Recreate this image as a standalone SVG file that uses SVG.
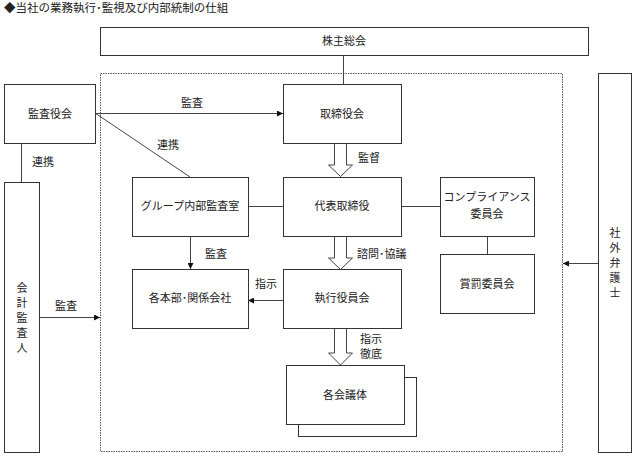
<svg xmlns="http://www.w3.org/2000/svg" width="640" height="463" viewBox="0 0 640 463">
<defs>
<style>
text{font-family:"Noto Sans CJK JP","Noto Sans CJK SC",sans-serif;font-size:11px;fill:#222}
.c{text-anchor:middle}
.v{writing-mode:vertical-rl;text-anchor:middle;letter-spacing:4px}
.box{fill:#fff;stroke:#333;stroke-width:1}
.ln{fill:none;stroke:#444;stroke-width:1}
.hol{fill:#fff;stroke:#444;stroke-width:1}
</style>
<marker id="ah" viewBox="0 0 6 6" refX="6" refY="3" markerWidth="6" markerHeight="6" orient="auto" markerUnits="userSpaceOnUse">
<path d="M0,0 L6,3 L0,6 z" fill="#111"/>
</marker>
</defs>
<rect width="640" height="463" fill="#fff"/>
<text x="4" y="12" style="font-size:11.5px">◆当社の業務執行･監視及び内部統制の仕組</text>

<rect x="100.5" y="73.5" width="462" height="378" fill="none" stroke="#555" stroke-dasharray="1.5,1"/>

<g id="connectors">
<line class="ln" x1="343.5" y1="55" x2="343.5" y2="84"/>
<line class="ln" x1="95" y1="113.5" x2="283" y2="113.5" marker-end="url(#ah)"/>
<text x="192" y="107" class="c">監査</text>
<line class="ln" x1="95" y1="113" x2="190" y2="177"/>
<text x="168" y="149" class="c">連携</text>
<line class="ln" x1="21.5" y1="143" x2="21.5" y2="182"/>
<text x="43" y="166" class="c">連携</text>
<line class="ln" x1="39" y1="317.5" x2="100" y2="317.5" marker-end="url(#ah)"/>
<text x="66" y="310" class="c">監査</text>
<line class="ln" x1="248" y1="206.5" x2="283" y2="206.5"/>
<line class="ln" x1="402" y1="206.5" x2="440" y2="206.5"/>
<line class="ln" x1="487.5" y1="236" x2="487.5" y2="254"/>
<line class="ln" x1="190.5" y1="236" x2="190.5" y2="269" marker-end="url(#ah)"/>
<text x="216" y="258" class="c">監査</text>
<line class="ln" x1="283" y1="300.5" x2="248" y2="300.5" marker-end="url(#ah)"/>
<text x="266" y="288" class="c">指示</text>
<line class="ln" x1="598" y1="263.5" x2="563" y2="263.5" marker-end="url(#ah)"/>
<path class="hol" d="M334.5,143 V165 H328.5 L340.5,176.5 L352.5,165 H346.5 V143"/>
<text x="369" y="162" class="c">監督</text>
<path class="hol" d="M334.5,236 V258 H328.5 L340.5,269.5 L352.5,258 H346.5 V236"/>
<text x="357" y="258">諮問･協議</text>
<path class="hol" d="M334.5,328 V353 H328.5 L340.5,365 L352.5,353 H346.5 V328"/>
<text x="371" y="343" class="c">指示</text>
<text x="371" y="358" class="c">徹底</text>
</g>

<g id="n-kabunushi"><rect class="box" x="100.5" y="27.5" width="488" height="28"/><text x="344" y="45" class="c">株主総会</text></g>
<g id="n-kansayaku"><rect class="box" x="4.5" y="84.5" width="91" height="59"/><text x="50" y="118" class="c">監査役会</text></g>
<g id="n-torishimariyaku"><rect class="box" x="283.5" y="84.5" width="118" height="59"/><text x="342" y="118" class="c">取締役会</text></g>
<g id="n-group"><rect class="box" x="132.5" y="177.5" width="116" height="59"/><text x="190" y="210" class="c">グループ内部監査室</text></g>
<g id="n-daihyo"><rect class="box" x="283.5" y="177.5" width="118" height="59"/><text x="342" y="210" class="c">代表取締役</text></g>
<g id="n-compliance"><rect class="box" x="440.5" y="177.5" width="94" height="59"/><text x="487" y="201" class="c">コンプライアンス</text><text x="487" y="218" class="c">委員会</text></g>
<g id="n-shobatsu"><rect class="box" x="440.5" y="254.5" width="94" height="59"/><text x="487" y="288" class="c">賞罰委員会</text></g>
<g id="n-kakuhonbu"><rect class="box" x="132.5" y="269.5" width="116" height="59"/><text x="190" y="302" class="c">各本部･関係会社</text></g>
<g id="n-shikko"><rect class="box" x="283.5" y="269.5" width="118" height="59"/><text x="342" y="302" class="c">執行役員会</text></g>
<g id="n-kaigitai"><rect class="box" x="298.5" y="377.5" width="118" height="59"/><rect class="box" x="286.5" y="365.5" width="118" height="59"/><text x="345" y="399" class="c">各会議体</text></g>
<g id="n-kaikei"><rect class="box" x="4.5" y="182.5" width="35" height="270"/>
<text x="22" y="320" class="v">会計監査人</text></g>
<g id="n-bengoshi"><rect class="box" x="598.5" y="73.5" width="33" height="379"/>
<text x="615" y="265" class="v">社外弁護士</text></g>
</svg>
